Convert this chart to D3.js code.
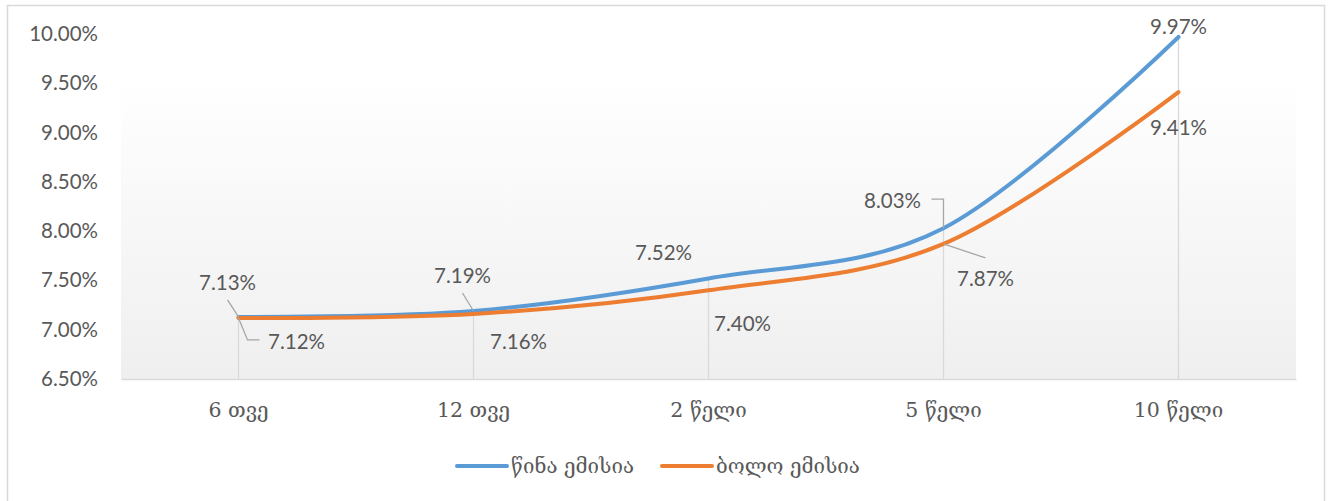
<!DOCTYPE html>
<html>
<head>
<meta charset="utf-8">
<script src="https://cdn.jsdelivr.net/npm/d3@7"></script>
<style>
  body { margin: 0; background: #fff; }
  .ytick { font-family: Lato, "Liberation Sans", sans-serif; font-size: 20.5px; fill: #595959; }
  .xtick { font-family: "DejaVu Serif", serif; font-size: 20.5px; fill: #595959; }
  .dlabel { font-family: Lato, "Liberation Sans", sans-serif; font-size: 20.5px; fill: #595959; }
  .legend text { font-family: "DejaVu Serif", serif; font-size: 20.5px; fill: #595959; }
</style>
</head>
<body>
<script>
// data
var categories = ["6 თვე", "12 თვე", "2 წელი", "5 წელი", "10 წელი"];
var seriesNames = ["წინა ემისია", "ბოლო ემისია"];
var previousIssue = [7.13, 7.19, 7.52, 8.03, 9.97];
var lastIssue = [7.12, 7.16, 7.40, 7.87, 9.41];
var yTicks = [6.5, 7.0, 7.5, 8.0, 8.5, 9.0, 9.5, 10.0];

var colors = ["#5B9BD5", "#ED7D31"];

var width = 1331, height = 501;
var margin = {top: 34, left: 121, right: 35, bottom: 122};
var plotW = width - margin.left - margin.right;
var plotH = height - margin.top - margin.bottom;

// label offsets (layout only) relative to each point
var labelOffsets = [
  [[-11, -35], [-11, -36], [-45, -26], [-51, -28], [0, -11]],
  [[58, 23], [45, 27], [34, 33], [42, 34], [0, 35]]
];
// leader lines, relative to point
var leaders = [
  [[[-11, -17], [0, 0]], [[-11, -18], [0, 0]], null, [[-12, -29], [0, -29], [0, 0]], null],
  [[[0, 0], [9, 22], [21, 22]], null, null, [[0, 0], [42, 14]], null]
];

var svg = d3.select("body").append("svg")
    .attr("width", width)
    .attr("height", height);

// chart border
svg.append("rect")
    .attr("x", 7.5).attr("y", 5.5)
    .attr("width", 1317).attr("height", 520)
    .attr("fill", "#fff")
    .attr("stroke", "#d9d9d9")
    .attr("stroke-width", 1.5);

var grad = svg.append("defs").append("linearGradient")
    .attr("id", "plotbg")
    .attr("x1", 0).attr("y1", 0).attr("x2", 0).attr("y2", 1);
grad.append("stop").attr("offset", "0").attr("stop-color", "#ffffff");
grad.append("stop").attr("offset", "0.13").attr("stop-color", "#ffffff");
grad.append("stop").attr("offset", "1").attr("stop-color", "#efefef");

var g = svg.append("g")
    .attr("transform", "translate(" + margin.left + "," + margin.top + ")");

var xScale = d3.scaleBand()
    .domain(categories)
    .range([0, plotW]);

var yScale = d3.scaleLinear()
    .domain([6.5, 10.0])
    .range([plotH, 0]);

function cx(i) { return xScale(categories[i]) + xScale.bandwidth() / 2; }

g.append("rect")
    .attr("width", plotW)
    .attr("height", plotH)
    .attr("fill", "url(#plotbg)");

// y axis labels
var yAxis = d3.axisLeft(yScale)
    .tickValues(yTicks)
    .tickSize(0)
    .tickPadding(23)
    .tickFormat(function(d) { return d.toFixed(2) + "%"; });

var yg = g.append("g").call(yAxis);
yg.select(".domain").remove();
yg.selectAll("text").attr("class", "ytick").attr("fill", null);

// drop lines
var series = [previousIssue, lastIssue];
g.selectAll(".drop")
    .data(categories)
    .enter()
    .append("line")
    .attr("class", "drop")
    .attr("x1", function(d, i) { return cx(i); })
    .attr("x2", function(d, i) { return cx(i); })
    .attr("y1", function(d, i) { return yScale(Math.max(previousIssue[i], lastIssue[i])); })
    .attr("y2", plotH)
    .attr("stroke", "#d9d9d9")
    .attr("stroke-width", 1.3);

// x axis
var xAxis = d3.axisBottom(xScale).tickSize(0).tickPadding(23);
var xg = g.append("g")
    .attr("transform", "translate(0," + plotH + ")")
    .call(xAxis);
xg.select(".domain").attr("stroke", "#d9d9d9").attr("stroke-width", 1.5);
xg.selectAll("text").attr("class", "xtick").attr("fill", null);

// lines
var line = d3.line()
    .x(function(d, i) { return cx(i); })
    .y(function(d) { return yScale(d); })
    .curve(d3.curveCatmullRom.alpha(0));

series.forEach(function(s, k) {
  g.append("path")
      .datum(s)
      .attr("d", line)
      .attr("fill", "none")
      .attr("stroke", colors[k])
      .attr("stroke-width", 4)
      .attr("stroke-linecap", "round")
      .attr("stroke-linejoin", "round");
});

// leader lines
series.forEach(function(s, k) {
  s.forEach(function(v, i) {
    var pts = leaders[k][i];
    if (!pts) return;
    var px = cx(i), py = yScale(v);
    g.append("path")
        .attr("d", d3.line()(pts.map(function(p) { return [px + p[0], py + p[1]]; })))
        .attr("fill", "none")
        .attr("stroke", "#a6a6a6")
        .attr("stroke-width", 1.3);
  });
});

// data labels
series.forEach(function(s, k) {
  g.selectAll(".lab" + k)
      .data(s)
      .enter()
      .append("text")
      .attr("class", "dlabel")
      .attr("x", function(d, i) { return cx(i) + labelOffsets[k][i][0]; })
      .attr("y", function(d, i) { return yScale(d) + labelOffsets[k][i][1]; })
      .attr("text-anchor", "middle")
      .attr("dominant-baseline", "central")
      .text(function(d) { return d.toFixed(2) + "%"; });
});

// legend
var legend = svg.append("g").attr("class", "legend");
var legX = [457, 662];
seriesNames.forEach(function(name, k) {
  legend.append("line")
      .attr("x1", legX[k]).attr("x2", legX[k] + 50)
      .attr("y1", 466).attr("y2", 466)
      .attr("stroke", colors[k])
      .attr("stroke-width", 4)
      .attr("stroke-linecap", "round");
  legend.append("text")
      .attr("x", legX[k] + 54)
      .attr("y", 466)
      .attr("dominant-baseline", "central")
      .text(name);
});
</script>
</body>
</html>
